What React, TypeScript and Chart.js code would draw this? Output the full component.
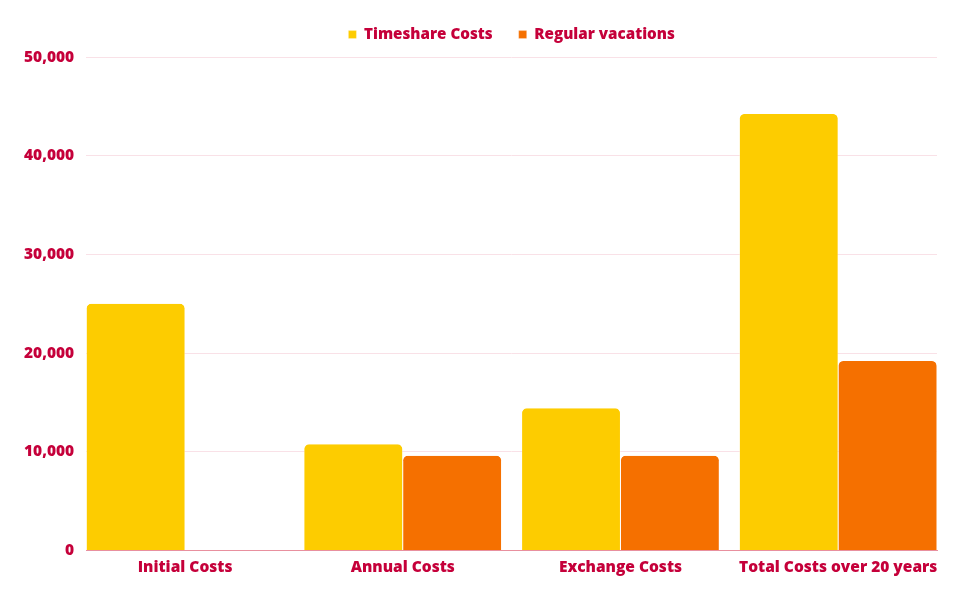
import React, { useEffect, useRef } from "react";
import { Chart, registerables } from "chart.js";

Chart.register(...registerables);

const categories = ["Initial Costs", "Annual Costs", "Exchange Costs", "Total Costs over 20 years"];
const timeshareCosts = [25000, 10750, 14400, 44250];
const regularVacations = [null, 9600, 9600, 19200];
const yTicks = [0, 10000, 20000, 30000, 40000, 50000];

const TEXT = "#c5003a";
const FONT = "'Open Sans', sans-serif";

const CostChart = () => {
  const canvasRef = useRef(null);
  const chartRef = useRef(null);

  useEffect(() => {
    document.body.style.margin = "0";
    const ctx = canvasRef.current.getContext("2d");
    if (chartRef.current) chartRef.current.destroy();

    chartRef.current = new Chart(ctx, {
      type: "bar",
      data: {
        datasets: [
          {
            label: "Timeshare Costs",
            data: timeshareCosts.map((y, i) => ({ x: i, y })),
            backgroundColor: "#fdcc00",
            borderColor: "#ffffff",
            borderWidth: { top: 0, left: 0.5, right: 0.5, bottom: 0 },
            borderRadius: { topLeft: 5, topRight: 5 },
            borderSkipped: "bottom",
          },
          {
            label: "Regular vacations",
            data: regularVacations.map((y, i) => ({ x: i, y })),
            backgroundColor: "#f57000",
            borderColor: "#ffffff",
            borderWidth: { top: 0, left: 0.5, right: 0.5, bottom: 0 },
            borderRadius: { topLeft: 5, topRight: 5 },
            borderSkipped: "bottom",
          },
        ],
      },
      options: {
        animation: false,
        responsive: true,
        maintainAspectRatio: false,
        layout: { padding: { left: 12, right: 23, top: 1, bottom: 15 } },
        datasets: { bar: { categoryPercentage: 0.908, barPercentage: 1 } },
        plugins: {
          legend: {
            position: "top",
            fullSize: false,
            labels: {
              color: TEXT,
              font: { family: FONT, size: 15.2, weight: 800 },
              usePointStyle: true,
              pointStyle: "rect",
              boxWidth: 8,
              boxHeight: 8,
              padding: 26,
            },
          },
          // empty title used as a small spacer between legend and plot
          title: {
            display: true,
            text: "",
            weight: 500,
            font: { size: 1, lineHeight: 1 },
            padding: { top: 0, bottom: 4 },
          },
          tooltip: { enabled: false },
        },
        scales: {
          x: {
            type: "linear",
            offset: false,
            min: -0.454,
            max: 3.454,
            afterBuildTicks: (scale) => {
              scale.ticks = categories.map((_, i) => ({ value: i }));
            },
            ticks: {
              color: TEXT,
              font: { family: FONT, size: 15.5, weight: 800 },
              autoSkip: false,
              maxRotation: 0,
              padding: 8,
              callback: (v) => categories[v],
            },
            grid: { display: false, drawTicks: false },
            border: { color: "#e8909f", width: 1 },
          },
          y: {
            min: 0,
            max: 50000,
            afterBuildTicks: (scale) => {
              scale.ticks = yTicks.map((value) => ({ value }));
            },
            ticks: {
              color: TEXT,
              font: { family: FONT, size: 15.5, weight: 800 },
              padding: 12,
              callback: (v) => Number(v).toLocaleString("en-US"),
            },
            grid: { color: "#f9e1e7", drawTicks: false },
            border: { display: false },
          },
        },
      },
    });

    return () => {
      if (chartRef.current) {
        chartRef.current.destroy();
        chartRef.current = null;
      }
    };
  }, []);

  return (
    <div style={{ width: "960px", height: "600px", position: "relative" }}>
      <canvas ref={canvasRef}></canvas>
    </div>
  );
};

export default function App() {
  return <CostChart />;
}
